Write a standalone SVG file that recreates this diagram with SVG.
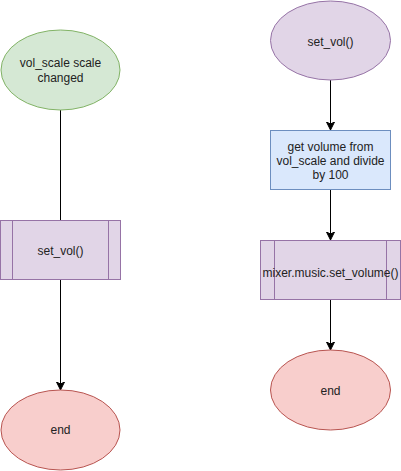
<svg xmlns="http://www.w3.org/2000/svg" width="401" height="471" viewBox="0 0 401 471">
<defs>
<marker id="arr" markerWidth="10" markerHeight="10" refX="8" refY="4" orient="auto" markerUnits="userSpaceOnUse">
<path d="M0,0 L8,4 L0,8 L2,4 Z" fill="#000" stroke="#000" stroke-width="1"/>
</marker>
<style>
text{font-family:"Liberation Sans",Arial,sans-serif;font-size:12px;fill:#222;text-anchor:middle}
.g{fill:#d5e8d4;stroke:#82b366}
.p{fill:#e1d5e7;stroke:#9673a6}
.b{fill:#dae8fc;stroke:#6c8ebf}
.r{fill:#f8cecc;stroke:#b85450}
.c{stroke:#000;stroke-width:1;fill:none}
</style>
</defs>
<rect width="401" height="471" fill="#fff"/>
<g id="connectors">
<path class="c" d="M60.5,110 L60.5,220"/>
<path class="c" d="M60.5,280 L60.5,390" marker-end="url(#arr)"/>
<path class="c" d="M330.5,80 L330.5,130" marker-end="url(#arr)"/>
<path class="c" d="M330.5,190 L330.5,240" marker-end="url(#arr)"/>
<path class="c" d="M330.5,300 L330.5,350" marker-end="url(#arr)"/>
</g>
<g id="start1">
<ellipse class="g" cx="60.5" cy="70" rx="59.5" ry="40"/>
<text x="60.5" y="67">vol_scale scale</text>
<text x="60.5" y="82">changed</text>
</g>
<g id="call1">
<rect class="p" x="0.5" y="220.5" width="120" height="59"/>
<line class="p" x1="12.5" y1="220.5" x2="12.5" y2="279.5"/>
<line class="p" x1="108.5" y1="220.5" x2="108.5" y2="279.5"/>
<text x="60.5" y="255">set_vol()</text>
</g>
<g id="end1">
<ellipse class="r" cx="60.5" cy="430" rx="59.5" ry="40"/>
<text x="60.5" y="434">end</text>
</g>
<g id="start2">
<ellipse class="p" cx="330.5" cy="40.5" rx="60" ry="39.5"/>
<text x="330.5" y="46">set_vol()</text>
</g>
<g id="getvol">
<rect class="b" x="270.5" y="130.5" width="120" height="59"/>
<text x="330.5" y="151">get volume from</text>
<text x="330.5" y="165">vol_scale and divide</text>
<text x="330.5" y="179">by 100</text>
</g>
<g id="mixer">
<rect class="p" x="260.5" y="240.5" width="140" height="59"/>
<line class="p" x1="274.5" y1="240.5" x2="274.5" y2="299.5"/>
<line class="p" x1="386.5" y1="240.5" x2="386.5" y2="299.5"/>
<text x="330.5" y="277">mixer.music.set_volume()</text>
</g>
<g id="end2">
<ellipse class="r" cx="330.5" cy="390" rx="60" ry="40"/>
<text x="330.5" y="395">end</text>
</g>
</svg>
